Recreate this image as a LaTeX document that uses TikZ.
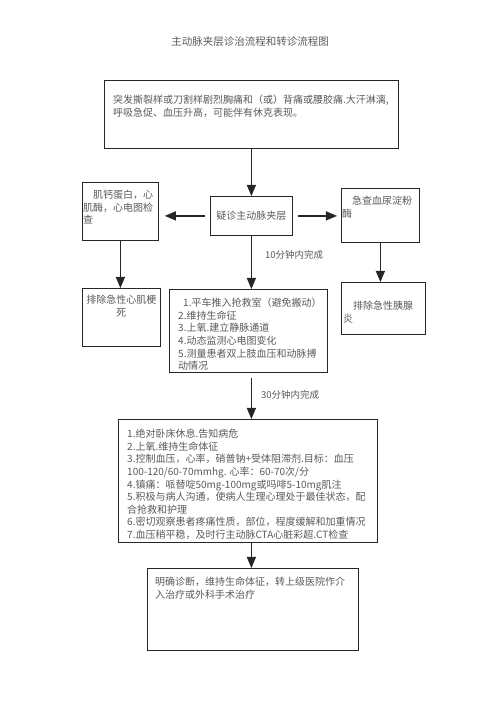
\documentclass[tikz,border=0pt]{standalone}
\usepackage{fontspec}
\setmainfont{Noto Sans CJK SC}
\usepackage{tikz}
\usetikzlibrary{arrows}

\tikzset{
  box/.style={draw=black!85, line width=0.8pt, inner sep=0pt, anchor=north west},
  txt/.style={inner sep=0pt, anchor=north west, align=left, text=black!65,
    font=\fontsize{10}{12.6}\selectfont},
  arr/.style={-triangle 45, line width=1.6pt, black!85},
  note/.style={inner sep=0pt, anchor=west, text=black!65, font=\fontsize{9.5}{11}\selectfont}
}

\begin{document}
\begin{tikzpicture}[x=1pt, y=-1pt]
        \useasboundingbox (0,0) rectangle (496,702);

        % title
        \node[text=black!65, font=\fontsize{10.5}{12}\selectfont] (title) at (250,42) {主动脉夹层诊治流程和转诊流程图};

        % boxes
        \node[box, minimum width=294, minimum height=68] (onset) at (104,80) {};
        \node[box, minimum width=82, minimum height=39, text=black!65,
              font=\fontsize{10}{12}\selectfont] (suspect) at (210,196) {疑诊主动脉夹层};
        \node[box, minimum width=76, minimum height=58] (labs) at (82,182) {};
        \node[box, minimum width=78, minimum height=54] (amylase) at (341,188) {};
        \node[box, minimum width=78, minimum height=58] (mi) at (82,288) {};
        \node[box, minimum width=158, minimum height=83] (plan) at (169,289) {};
        \node[box, minimum width=84, minimum height=52] (panc) at (341,282) {};
        \node[box, minimum width=259, minimum height=123] (care) at (118,419) {};
        \node[box, minimum width=211, minimum height=82] (refer) at (147,568) {};

        % texts
        \node[txt] (onsettxt) at ([xshift=9pt, yshift=-15pt]onset.north west)
          {突发撕裂样或刀割样剧烈胸痛和（或）背痛或腰胶痛.大汗淋漓,\\
           呼吸急促、血压升高，可能伴有休克表现。};
        \node[txt] (labstxt) at ([xshift=1pt, yshift=-8pt]labs.north west)
          {\hspace*{1em}肌钙蛋白，心\\肌酶，心电图检\\查};
        \node[txt] (amylasetxt) at ([xshift=1pt, yshift=-8pt]amylase.north west)
          {\hspace*{1em}急查血尿淀粉\\酶};
        \node[txt, anchor=north, align=center] (mitxt) at ([yshift=-7pt]mi.north)
          {排除急性心肌梗\\死};
        \node[txt] (plantxt) at ([xshift=9pt, yshift=-9pt]plan.north west)
          {\hspace*{5pt}1.平车推入抢救室（避免搬动）\\
           2.维持生命征\\
           3.上氧.建立静脉通道\\
           4.动态监测心电图变化\\
           5.测量患者双上肢血压和动脉搏\\
           动情况};
        \node[txt] (panctxt) at ([xshift=2pt, yshift=-19pt]panc.north west)
          {\hspace*{1em}排除急性胰腺\\炎};
        \node[txt] (caretxt) at ([xshift=9pt, yshift=-10pt]care.north west)
          {1.绝对卧床休息.告知病危\\
           2.上氧.维持生命体征\\
           3.控制血压，心率，硝普钠+受体阻滞剂.目标：血压\\
           100-120/60-70mmhg. 心率：60-70次/分\\
           4.镇痛：哌替啶50mg-100mg或吗啡5-10mg肌注\\
           5.积极与病人沟通，使病人生理心理处于最佳状态，配\\
           合抢救和护理\\
           6.密切观察患者疼痛性质，部位，程度缓解和加重情况\\
           7.血压稍平稳，及时行主动脉CTA心脏彩超.CT检查};
        \node[txt] (refertxt) at ([xshift=8pt, yshift=-9pt]refer.north west)
          {明确诊断，维持生命体征，转上级医院作介\\入治疗或外科手术治疗};

        % arrows
        \draw[arr] (onset.south) -- (suspect.north);
        \draw[arr, shorten <=5pt, shorten >=6pt] (suspect.west) -- (suspect.west -| labs.east);
        \draw[arr, shorten <=5pt, shorten >=4pt] (suspect.east) -- (suspect.east -| amylase.west);
        \draw[arr] (labs.south) -- (labs.south |- mi.north);
        \draw[arr] (amylase.south) -- (amylase.south |- panc.north);
        \draw[arr] (suspect.south) -- (suspect.south |- plan.north);
        \draw[arr, shorten <=5pt] (plan.south -| suspect.south) -- (suspect.south |- care.north);
        \draw[arr] (care.south -| suspect.south) -- (suspect.south |- refer.north);

        % timing notes
        \node[note] (ten) at (265,255) {10分钟内完成};
        \node[note] (thirty) at (261,395) {30分钟内完成};

\end{tikzpicture}
\end{document}
